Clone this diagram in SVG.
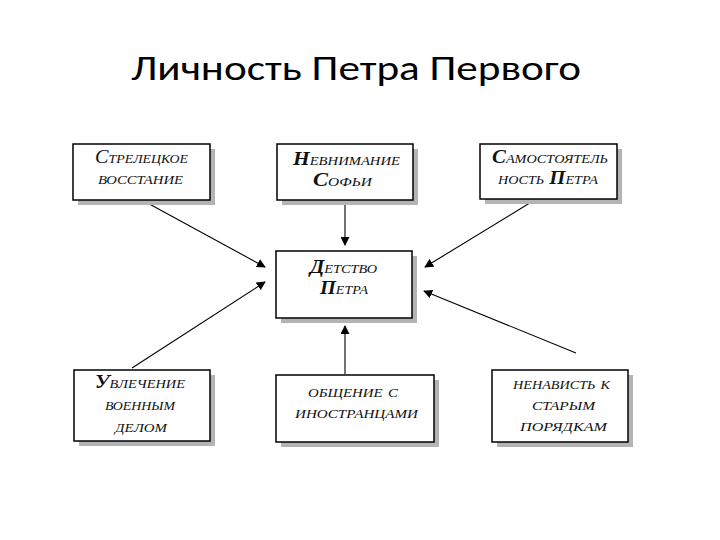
<svg xmlns="http://www.w3.org/2000/svg" width="720" height="540" viewBox="0 0 720 540">
<style>
.title{font-family:Calibri,"Noto Sans","Open Sans",sans-serif;font-size:34px;fill:#000;text-anchor:middle}
.box{fill:#fff;stroke:#000;stroke-width:1.5}
.sh{fill:#b4b4b4}
.t{font-family:"Liberation Serif","DejaVu Serif",serif;font-style:italic;font-variant:small-caps;font-size:19px;fill:#111;text-anchor:middle}
.b{font-weight:bold}
.c{stroke:#000;stroke-width:1.1;fill:none;marker-end:url(#ah)}
</style>
<defs>
<marker id="ah" viewBox="0 0 10 10" refX="9" refY="5" markerWidth="9" markerHeight="9" markerUnits="userSpaceOnUse" orient="auto">
<path d="M0,0 L10,5 L0,10 z" fill="#000"/>
</marker>
</defs>
<rect width="720" height="540" fill="#fff"/>
<text class="title" x="356" y="80" textLength="450" lengthAdjust="spacingAndGlyphs">Личность Петра Первого</text>

<g id="connectors">
<line class="c" x1="345" y1="200" x2="345" y2="245"/>
<line class="c" x1="142" y1="200" x2="265" y2="267"/>
<line class="c" x1="533" y1="201" x2="425" y2="267"/>
<line class="c" x1="132" y1="368" x2="265" y2="282"/>
<line class="c" x1="345" y1="374" x2="345" y2="326"/>
<line class="c" x1="576" y1="353" x2="424" y2="291"/>
</g>

<g id="n1">
<rect class="sh" x="78" y="149" width="137" height="56"/>
<rect class="box" x="73" y="144" width="137" height="56"/>
<text class="t" x="141.5" y="163" textLength="93" lengthAdjust="spacingAndGlyphs">Стрелецкое</text>
<text class="t" x="140.5" y="184" textLength="85" lengthAdjust="spacingAndGlyphs">восстание</text>
</g>
<g id="n2">
<rect class="sh" x="282" y="149" width="136" height="56"/>
<rect class="box" x="277" y="144" width="136" height="56"/>
<text class="t" x="346.5" y="165" textLength="107" lengthAdjust="spacingAndGlyphs"><tspan class="b">Н</tspan>евнимание</text>
<text class="t" x="342.5" y="186" textLength="59" lengthAdjust="spacingAndGlyphs"><tspan class="b">С</tspan>офьи</text>
</g>
<g id="n3">
<rect class="sh" x="485" y="149" width="137" height="55"/>
<rect class="box" x="480" y="144" width="137" height="55"/>
<text class="t" x="550" y="163" textLength="116" lengthAdjust="spacingAndGlyphs"><tspan class="b">С</tspan>амостоятель</text>
<text class="t" x="548" y="184" textLength="100" lengthAdjust="spacingAndGlyphs">ность <tspan class="b">П</tspan>етра</text>
</g>
<g id="n4">
<rect class="sh" x="281" y="256" width="136" height="67"/>
<rect class="box" x="276" y="251" width="136" height="67"/>
<text class="t" x="343.5" y="273" textLength="67" lengthAdjust="spacingAndGlyphs"><tspan class="b">Д</tspan>етство</text>
<text class="t" x="344" y="294" textLength="48" lengthAdjust="spacingAndGlyphs"><tspan class="b">П</tspan>етра</text>
</g>
<g id="n5">
<rect class="sh" x="79" y="375" width="136" height="71"/>
<rect class="box" x="74" y="370" width="136" height="71"/>
<text class="t" x="140" y="388" textLength="90" lengthAdjust="spacingAndGlyphs"><tspan class="b">У</tspan>влечение</text>
<text class="t" x="140" y="410" textLength="70" lengthAdjust="spacingAndGlyphs">военным</text>
<text class="t" x="141" y="432" textLength="52" lengthAdjust="spacingAndGlyphs">делом</text>
</g>
<g id="n6">
<rect class="sh" x="281" y="380" width="158" height="67"/>
<rect class="box" x="276" y="375" width="158" height="67"/>
<text class="t" x="353" y="397" textLength="90" lengthAdjust="spacingAndGlyphs">общение с</text>
<text class="t" x="356.5" y="418" textLength="123" lengthAdjust="spacingAndGlyphs">иностранцами</text>
</g>
<g id="n7">
<rect class="sh" x="497" y="375" width="136" height="72"/>
<rect class="box" x="492" y="370" width="136" height="72"/>
<text class="t" x="561.5" y="389" textLength="97" lengthAdjust="spacingAndGlyphs">ненависть к</text>
<text class="t" x="563.5" y="410" textLength="63" lengthAdjust="spacingAndGlyphs">старым</text>
<text class="t" x="563.5" y="431" textLength="87" lengthAdjust="spacingAndGlyphs">порядкам</text>
</g>
</svg>
